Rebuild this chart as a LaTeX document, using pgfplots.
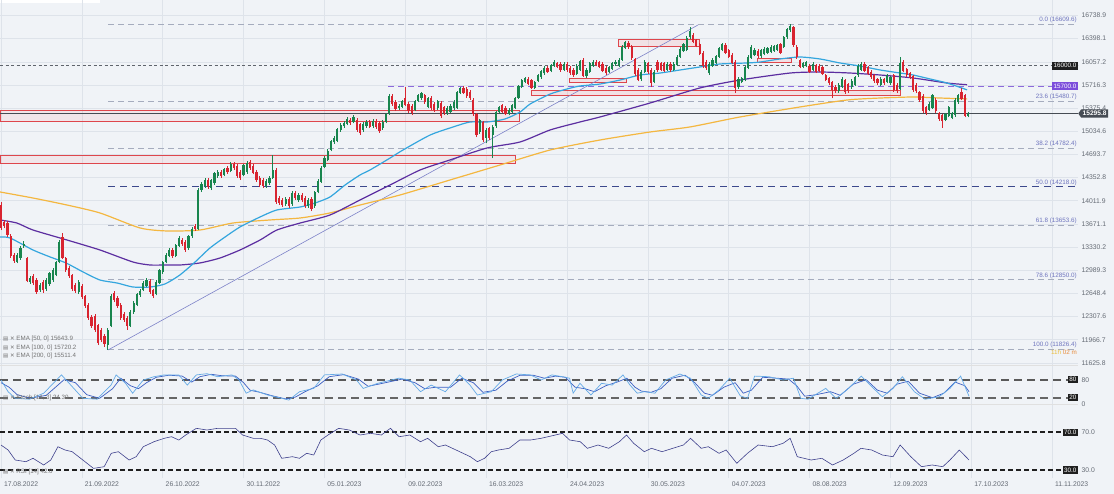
\documentclass[border=0pt]{standalone}
\usepackage{fontspec}
\setmainfont{Liberation Sans}
\newfontfamily\dejavu{DejaVu Sans}
\usepackage{pgfplots}
\usepackage{pgfplotstable}
\pgfplotsset{compat=1.18}
\usetikzlibrary{shapes.symbols}
\definecolor{bg}{RGB}{240,243,247}
\definecolor{gridc}{RGB}{222,227,234}
\definecolor{upc}{RGB}{24,133,78}
\definecolor{dnc}{RGB}{216,36,48}
\definecolor{ema50}{RGB}{52,166,222}
\definecolor{ema100}{RGB}{92,46,160}
\definecolor{ema200}{RGB}{244,183,64}
\definecolor{fibc}{RGB}{165,172,190}
\definecolor{fibtxt}{RGB}{110,116,190}
\definecolor{fibmid}{RGB}{60,72,140}
\definecolor{lvlA}{RGB}{95,100,108}
\definecolor{lvlB}{RGB}{140,105,220}
\definecolor{boxB}{RGB}{124,77,219}
\definecolor{rectc}{RGB}{222,70,76}
\definecolor{trendc}{RGB}{125,130,200}
\definecolor{tickc}{RGB}{100,106,116}
\definecolor{stk}{RGB}{100,170,230}
\definecolor{std}{RGB}{60,95,195}
\definecolor{rsic}{RGB}{62,64,140}
\definecolor{pricec}{RGB}{70,76,84}
\definecolor{timerA}{RGB}{236,190,60}
\definecolor{timerB}{RGB}{232,140,60}

\pgfplotstableread{
i O H L C
0 13949 14000 13580 13611
1 13699 13730 13610 13640
2 13684 13710 13480 13508
3 13493 13520 13170 13199
4 13213 13240 13100 13125
5 13110 13240 13090 13213
6 13169 13340 13140 13316
7 13346 13420 13320 13375
8 13169 13190 12810 12831
9 12816 12900 12790 12875
10 12904 12930 12770 12801
11 12845 12870 12640 12669
12 12698 12800 12670 12772
13 12816 12840 12660 12698
14 12713 12870 12690 12845
15 12787 12970 12760 12948
16 12845 13020 12820 12993
17 12919 13130 12900 13110
18 13110 13430 13090 13405
19 13479 13530 13150 13169
20 13169 13190 12970 12993
21 13022 13050 12880 12904
22 12919 12940 12690 12713
23 12772 12800 12660 12684
24 12669 12840 12640 12816
25 12757 12780 12570 12595
26 12610 12630 12440 12463
27 12478 12500 12260 12286
28 12301 12330 12140 12168
29 12316 12340 12080 12109
30 12183 12200 11890 11918
31 12109 12140 11930 11962
32 12021 12050 11860 11903
33 11889 12140 11815 12109
34 12168 12640 12150 12610
35 12654 12690 12520 12551
36 12581 12610 12440 12463
37 12478 12500 12260 12286
38 12345 12370 12230 12257
39 12286 12310 12110 12168
40 12168 12400 12150 12375
41 12375 12530 12350 12507
42 12478 12660 12460 12639
43 12625 12710 12600 12684
44 12698 12830 12680 12801
45 12757 12870 12740 12845
46 12831 12860 12640 12669
47 12698 12720 12580 12610
48 12639 12840 12620 12816
49 12801 13010 12780 12993
50 12963 13130 12940 13110
51 13110 13240 13090 13213
52 13199 13310 13180 13287
53 13287 13320 13170 13199
54 13199 13380 13180 13361
55 13346 13490 13330 13464
56 13434 13460 13350 13375
57 13405 13430 13260 13287
58 13316 13510 13290 13493
59 13493 13620 13470 13596
60 13640 13670 13570 13596
61 13596 14200 13580 14170
62 14170 14290 14140 14259
63 14229 14340 14200 14317
64 14317 14350 14190 14214
65 14200 14330 14170 14317
66 14273 14440 14250 14420
67 14376 14460 14350 14435
68 14435 14460 14350 14376
69 14391 14500 14370 14479
70 14494 14520 14410 14435
71 14450 14580 14430 14553
72 14553 14580 14470 14494
73 14524 14550 14350 14376
74 14435 14460 14320 14347
75 14391 14560 14370 14538
76 14435 14590 14410 14568
77 14582 14610 14470 14494
78 14524 14550 14400 14420
79 14435 14460 14290 14317
80 14347 14370 14220 14244
81 14317 14340 14200 14229
82 14229 14330 14200 14303
83 14273 14370 14250 14347
84 14347 14685 14330 14465
85 14465 14490 13970 13994
86 14052 14080 13950 13979
87 14023 14050 13920 13949
88 13964 14060 13940 14038
89 14038 14060 13910 13935
90 13964 14150 13940 14126
91 14126 14150 14030 14052
92 14023 14120 14000 14097
93 14097 14120 14000 14023
94 14052 14080 13910 13935
95 13935 14050 13910 14023
96 14038 14060 13860 13891
97 13935 14160 13910 14141
98 14141 14330 14120 14303
99 14288 14520 14270 14494
100 14509 14670 14490 14641
101 14612 14770 14590 14744
102 14759 14910 14740 14892
103 14877 14960 14850 14936
104 14892 15090 14870 15068
105 15054 15150 15030 15127
106 15112 15180 15090 15157
107 15142 15240 15120 15215
108 15201 15230 15130 15157
109 15171 15270 15150 15245
110 15201 15230 15030 15054
111 15142 15160 14980 15009
112 15054 15170 15030 15142
113 15112 15200 15090 15171
114 15171 15200 15080 15098
115 15112 15210 15090 15186
116 15186 15210 15070 15098
117 15157 15180 15010 15039
118 15083 15200 15060 15171
119 15171 15310 15150 15289
120 15304 15580 15280 15554
121 15554 15580 15410 15436
122 15466 15490 15340 15363
123 15377 15430 15350 15407
124 15392 15500 15370 15480
125 15524 15686 15400 15421
126 15436 15460 15310 15333
127 15407 15430 15280 15304
128 15348 15500 15330 15480
129 15480 15590 15460 15569
130 15524 15620 15500 15598
131 15569 15590 15440 15466
132 15392 15540 15370 15524
133 15524 15550 15350 15377
134 15436 15460 15320 15348
135 15377 15500 15350 15480
136 15451 15480 15230 15260
137 15392 15410 15280 15304
138 15304 15400 15280 15377
139 15318 15430 15300 15407
140 15377 15490 15350 15466
141 15377 15630 15360 15613
142 15598 15690 15580 15672
143 15672 15700 15580 15598
144 15657 15680 15530 15554
145 15613 15640 15500 15524
146 15495 15520 15260 15289
147 15289 15310 14950 14980
148 15024 15220 15000 15201
149 15171 15190 14870 14906
150 14936 15080 14860 15054
151 15083 15100 14900 14936
152 14980 15120 14641 15098
153 15112 15340 15090 15318
154 15318 15410 15300 15392
155 15421 15440 15300 15318
156 15377 15400 15270 15289
157 15289 15370 15270 15348
158 15318 15440 15300 15421
159 15377 15540 15360 15524
160 15524 15720 15510 15701
161 15686 15810 15670 15789
162 15760 15840 15740 15819
163 15804 15830 15710 15730
164 15789 15810 15650 15672
165 15672 15780 15650 15760
166 15775 15880 15760 15863
167 15834 15940 15810 15922
168 15892 15990 15870 15966
169 15966 15990 15890 15907
170 15922 16030 15900 16010
171 15995 16080 15980 16054
172 16040 16060 15960 15981
173 16025 16050 15910 15937
174 15937 16050 15920 16025
175 16025 16050 15910 15937
176 15966 15990 15870 15892
177 15937 15960 15840 15863
178 15878 16020 15860 15995
179 15937 16090 15920 16069
180 16084 16110 15830 15848
181 15848 15960 15820 15937
182 15907 16060 15890 16040
183 15995 16080 15980 16054
184 16054 16080 15990 16010
185 16054 16070 15960 15981
186 16025 16050 15900 15922
187 15966 15990 15870 15892
188 15907 16000 15890 15981
189 15951 16060 15930 16040
190 16025 16080 16000 16054
191 15995 16110 15980 16084
192 16084 16300 16070 16275
193 16260 16370 16240 16349
194 16334 16360 16250 16275
195 16290 16310 16090 16113
196 16099 16120 15850 15878
197 15937 15960 15770 15789
198 15804 15930 15780 15907
199 15907 16080 15890 16054
200 16040 16060 15880 15907
201 15937 15960 15686 15745
202 15760 15930 15740 15907
203 16054 16080 15910 15937
204 16040 16060 15920 15937
205 16040 16060 15900 15922
206 15937 16050 15920 16025
207 16025 16050 15910 15937
208 15937 16050 15920 16025
209 16010 16150 15990 16128
210 16128 16270 16110 16246
211 16216 16340 16200 16319
212 16231 16430 16210 16408
213 16422 16570 16400 16511
214 16452 16480 16330 16349
215 16378 16400 16270 16290
216 16319 16340 16150 16172
217 16187 16210 15970 15995
218 16054 16080 15940 15966
219 15892 16050 15870 16025
220 15995 16110 15980 16084
221 16040 16160 16020 16143
222 16128 16280 16110 16260
223 16231 16340 16210 16319
224 16305 16330 16170 16187
225 16231 16250 16110 16128
226 16157 16180 16020 16040
227 16054 16080 15598 15672
228 15686 15830 15660 15804
229 15760 15840 15740 15819
230 15789 16000 15770 15981
231 15966 16150 15950 16128
232 16113 16300 16100 16275
233 16157 16260 16140 16231
234 16216 16240 16120 16143
235 16143 16250 16120 16231
236 16172 16270 16150 16246
237 16187 16280 16170 16260
238 16202 16300 16180 16275
239 16216 16310 16200 16290
240 16231 16320 16210 16305
241 16319 16340 16170 16187
242 16275 16440 16260 16422
243 16422 16560 16400 16540
244 16525 16614 16500 16584
245 16570 16590 16280 16305
246 16275 16300 16100 16128
247 16084 16100 15960 15981
248 15981 16060 15960 16040
249 15995 16070 15980 16054
250 15995 16020 15890 15907
251 15937 16050 15920 16025
252 16010 16030 15890 15907
253 15995 16020 15900 15922
254 15981 16000 15860 15878
255 15863 15880 15770 15789
256 15819 15840 15720 15745
257 15760 15780 15524 15642
258 15686 15710 15600 15627
259 15627 15740 15600 15716
260 15686 15830 15670 15804
261 15789 15810 15590 15613
262 15730 15750 15600 15627
263 15686 15800 15660 15775
264 15716 15850 15700 15834
265 15863 16020 15840 15995
266 15937 16050 15920 16025
267 16025 16050 15900 15922
268 15981 16000 15860 15878
269 15907 15930 15810 15834
270 15863 15880 15750 15775
271 15804 15820 15720 15745
272 15716 15830 15700 15804
273 15804 15820 15720 15745
274 15760 15880 15740 15863
275 15745 15850 15720 15834
276 15863 15880 15620 15642
277 15716 15740 15600 15627
278 15657 16128 15640 16040
279 16054 16080 15900 15922
280 15951 15970 15840 15863
281 15892 15910 15800 15819
282 15848 15870 15620 15642
283 15716 15740 15600 15627
284 15613 15630 15470 15495
285 15554 15580 15310 15333
286 15392 15410 15280 15304
287 15348 15460 15330 15436
288 15377 15590 15360 15569
289 15495 15520 15310 15333
290 15304 15320 15190 15215
291 15274 15290 15083 15186
292 15201 15310 15180 15289
293 15260 15410 15240 15392
294 15230 15320 15210 15304
295 15274 15520 15250 15495
296 15466 15590 15440 15569
297 15613 15672 15490 15510
298 15569 15590 15240 15260
299 15260 15320 15240 15296
}\candles

\pgfplotsset{
  panel/.style={
    scale only axis, width=1078pt, xmin=-0.31, xmax=333,
    axis line style={draw=none}, major tick length=0pt,
    xtick={0,25,...,325}, xmajorgrids=true,
    grid style={gridc, line width=0.5pt},
    ticklabel style={font=\fontsize{6.8}{8}\selectfont, text=tickc},
    yticklabel pos=right, clip mode=individual,
  },
  candle/.style={draw=none, mark=none, forget plot,
    error bars/y dir=plus, error bars/y explicit, error bars/error mark=none,
    error bars/error bar style={line width=#1}},
}
\tikzset{
  fiblab/.style={anchor=south east, inner sep=1pt, text=fibtxt, font=\fontsize{6.3}{7}\selectfont},
  blkbox/.style={anchor=east, fill=black!88, text=white, inner xsep=1.5pt, inner ysep=1.4pt, font=\fontsize{6.3}{7}\selectfont},
}

\begin{document}
\begin{tikzpicture}[x=1pt,y=1pt]
\fill[bg] (0,0) rectangle (1114,-494);
\fill[white] (0,0) rectangle (100,-3);

% ===== main price panel =====
\begin{axis}[panel, at={(0pt,0pt)}, anchor=north west, height=365pt,
  ymin=11594, ymax=16967, xticklabels={}, ymajorgrids=true,
  ytick={16738.9,16398.1,16057.2,15716.3,15375.4,15034.6,14693.7,14352.8,14011.9,13671.1,13330.2,12989.3,12648.4,12307.6,11966.7,11625.8},
  yticklabels={16738.9,16398.1,16057.2,15716.3,15375.4,15034.6,14693.7,14352.8,14011.9,13671.1,13330.2,12989.3,12648.4,12307.6,11966.7,11625.8},
]
% zones
\addplot[draw=rectc, line width=0.7pt, fill=red, fill opacity=0.05] coordinates {(-0.31,15348) (160.2,15348) (160.2,15186) (-0.31,15186)} -- cycle;
\addplot[draw=rectc, line width=0.7pt, fill=red, fill opacity=0.05] coordinates {(-0.31,14685) (158.9,14685) (158.9,14568) (-0.31,14568)} -- cycle;
\addplot[draw=rectc, line width=0.9pt, fill=red, fill opacity=0.07] coordinates {(190.8,16393) (216.1,16393) (216.1,16290) (190.8,16290)} -- cycle;
\addplot[draw=rectc, line width=0.9pt, fill=red, fill opacity=0.07] coordinates {(175.9,15819) (193.3,15819) (193.3,15760) (175.9,15760)} -- cycle;
\addplot[draw=rectc, line width=0.9pt, fill=red, fill opacity=0.07] coordinates {(163.9,15635) (278,15635) (278,15558) (163.9,15558)} -- cycle;
\addplot[draw=rectc, line width=0.9pt, fill=red, fill opacity=0.07] coordinates {(233.8,16113) (244.3,16113) (244.3,16054) (233.8,16054)} -- cycle;
% horizontal levels
\addplot[fibc, line width=0.6pt, dash pattern=on 6pt off 4pt] coordinates {(33.1,16609.6) (333,16609.6)};
\addplot[fibc, line width=0.6pt, dash pattern=on 6pt off 4pt] coordinates {(33.1,15480.7) (333,15480.7)};
\addplot[fibc, line width=0.6pt, dash pattern=on 6pt off 4pt] coordinates {(33.1,14782.4) (333,14782.4)};
\addplot[fibmid, line width=0.8pt, dash pattern=on 7pt off 5pt] coordinates {(33.1,14218.0) (333,14218.0)};
\addplot[fibc, line width=0.6pt, dash pattern=on 6pt off 4pt] coordinates {(33.1,13653.6) (333,13653.6)};
\addplot[fibc, line width=0.6pt, dash pattern=on 6pt off 4pt] coordinates {(33.1,12850.0) (333,12850.0)};
\addplot[fibc, line width=0.6pt, dash pattern=on 6pt off 4pt] coordinates {(33.1,11826.4) (333,11826.4)};
\addplot[lvlA, line width=0.7pt, dash pattern=on 3pt off 2.5pt] coordinates {(-0.31,16000) (333,16000)};
\addplot[lvlB, line width=1pt, dash pattern=on 6pt off 4pt] coordinates {(119.7,15700) (333,15700)};
\addplot[pricec, line width=0.6pt] coordinates {(-0.31,15295.8) (333,15295.8)};
% trend line
\addplot[trendc, line width=0.6pt] coordinates {(33.1,11815) (215.5,16599)};
% EMAs
\addplot[ema200, line width=1.2pt, smooth, tension=0.4] coordinates {(-0.3,14141) (9.9,14052) (20.4,13949) (30.6,13832) (43,13611) (51.3,13567) (61.5,13581) (71.7,13684) (83.2,13729) (92.5,13758) (101.7,13832) (111,13949) (123.4,14097) (138.8,14317) (154.3,14538) (169.8,14759) (185.2,14906) (200.7,15024) (213,15098) (228.5,15245) (247,15392) (261.6,15495) (271.8,15524) (282,15539) (290.4,15524) (298.7,15511)};
\addplot[ema100, line width=1.2pt, smooth, tension=0.4] coordinates {(-0.3,13729) (4.9,13684) (9.9,13581) (20.4,13434) (30.6,13287) (40.8,13110) (46.1,13066) (50.7,13066) (55.3,13066) (61.5,13096) (67.7,13169) (73.9,13287) (80.1,13434) (85.3,13581) (92.5,13684) (101.7,13802) (111,14023) (120.3,14244) (129.6,14465) (138.8,14612) (150.3,14789) (160.5,14877) (169.8,15054) (179,15171) (185.2,15245) (200.7,15451) (216.1,15672) (228.5,15789) (244,15892) (253.2,15907) (262.5,15892) (271.8,15863) (282,15819) (292.5,15745) (298.7,15720)};
\addplot[ema50, line width=1.2pt, smooth, tension=0.4] coordinates {(-0.3,13478) (2.8,13464) (9.9,13287) (15.2,13184) (20.1,13096) (25.4,12963) (30.6,12845) (35.9,12801) (40.8,12742) (46.1,12742) (50.7,12787) (55.3,12919) (60,13110) (64.6,13316) (69.3,13479) (73.9,13626) (80.1,13773) (85.3,13876) (92.5,13920) (97.1,13979) (101.7,14067) (106.4,14244) (111,14391) (114.1,14465) (120.3,14641) (124.3,14759) (132.7,14980) (139.8,15098) (145,15171) (150.3,15171) (155.8,15215) (160.5,15318) (163.6,15436) (169.8,15583) (175,15657) (179,15701) (185.2,15730) (191.4,15789) (197.6,15863) (203.8,15892) (210,15937) (216.1,15981) (222.3,16025) (230.7,16040) (234.7,16054) (240.9,16099) (247,16128) (253.2,16099) (259.4,16040) (265.6,15995) (271.8,15937) (278,15892) (282,15863) (287.3,15804) (292.5,15745) (298.7,15644)};
% candles: wicks
\addplot[candle=0.5pt, error bars/error bar style={draw=upc}, restrict expr to domain={\thisrow{C}-\thisrow{O}}{0:100000}]
  table[x=i, y=L, y error expr=\thisrow{H}-\thisrow{L}] {\candles};
\addplot[candle=0.5pt, error bars/error bar style={draw=dnc}, restrict expr to domain={\thisrow{O}-\thisrow{C}}{0.001:100000}]
  table[x=i, y=L, y error expr=\thisrow{H}-\thisrow{L}] {\candles};
% candles: bodies
\addplot[candle=2.2pt, error bars/error bar style={draw=upc}, restrict expr to domain={\thisrow{C}-\thisrow{O}}{0:100000}]
  table[x=i, y=O, y error expr=\thisrow{C}-\thisrow{O}] {\candles};
\addplot[candle=2.2pt, error bars/error bar style={draw=dnc}, restrict expr to domain={\thisrow{O}-\thisrow{C}}{0.001:100000}]
  table[x=i, y=C, y error expr=\thisrow{O}-\thisrow{C}] {\candles};
% fib labels
\node[fiblab] at (axis cs:333,16609.6) {0.0 (16609.6)};
\node[fiblab] at (axis cs:333,15480.7) {23.6 (15480.7)};
\node[fiblab] at (axis cs:333,14782.4) {38.2 (14782.4)};
\node[fiblab] at (axis cs:333,14218.0) {50.0 (14218.0)};
\node[fiblab] at (axis cs:333,13653.6) {61.8 (13653.6)};
\node[fiblab] at (axis cs:333,12850.0) {78.6 (12850.0)};
\node[fiblab] at (axis cs:333,11826.4) {100.0 (11826.4)};
\node[anchor=north east, inner sep=1pt, font=\fontsize{6.3}{7}\selectfont] at (axis cs:333,11826.4) {\textcolor{timerA}{11h} \textcolor{timerB}{02 m}};
\node[blkbox, inner ysep=1.6pt] at (axis cs:333,16000) {16000.0};
\node[blkbox, fill=boxB, inner ysep=1.6pt] at (axis cs:333,15700) {15700.0};
\node[signal, signal to=west, signal pointer angle=110, anchor=west, fill=pricec, text=white, inner xsep=1.5pt, inner ysep=1.8pt, font=\bfseries\fontsize{6.6}{7}\selectfont] at (axis cs:333,15295.8) {15295.8};
\end{axis}

% ===== stochastic panel =====
\begin{axis}[panel, at={(0pt,-365pt)}, anchor=north west, height=39pt,
  ymin=-1, ymax=129, xticklabels={}, ytick={0,80}, yticklabels={0,80}]
\addplot[black!65, line width=1.6pt, dash pattern=on 8pt off 5pt] coordinates {(-0.31,80) (330,80)};
\addplot[black!60, line width=1.6pt, dash pattern=on 8pt off 5pt] coordinates {(-0.31,20) (330,20)};
\addplot[std, line width=0.7pt] coordinates {(0,70) (2.5,55) (5,30) (9,18) (14,28) (19.5,80) (23,70) (26.5,30) (30.5,18) (34.5,50) (37,85) (40,60) (42.5,50) (45,70) (48,88) (52,95) (56,92) (59,72) (61.5,90) (65,98) (68.5,93) (72.5,92) (75,70) (77,45) (80,38) (84,26) (88,16) (91,22) (94,40) (98,60) (101.5,90) (106,97) (110.5,82) (113.5,58) (118,68) (124,82) (128,70) (131,50) (134.5,55) (139,55) (142.5,85) (146,70) (149,38) (153,45) (156.5,75) (160.5,95) (164.5,95) (168,85) (171.5,92) (174.5,88) (177.5,55) (180.5,50) (183.5,40) (187,60) (190.5,72) (193.5,85) (196,55) (198,42) (201,38) (204,50) (207.5,85) (211.5,95) (214.5,70) (217.5,35) (220,28) (223.5,55) (227,70) (229.5,35) (232,45) (235.5,88) (240,85) (243.5,82) (246,60) (248.5,25) (252,30) (256.5,40) (259.5,28) (263.5,65) (267.5,80) (271,45) (274,35) (277,65) (280.5,75) (284,35) (288,20) (291.5,35) (295,72) (298,60) (299.3,40)};
\addplot[stk, line width=0.7pt] coordinates {(0,79) (2.2,40) (4.4,18) (8.8,15) (13.2,35) (18.7,96) (22,57) (25.3,18) (29.7,15) (34,62) (35.6,96) (38.5,68) (40.7,35) (44,79) (47.3,90) (50.5,96) (55,96) (57.6,62) (60.4,96) (63.7,100) (67,90) (71.4,96) (73.6,79) (75.8,35) (78,46) (82.4,29) (86.8,18) (89,12) (92.3,40) (96.7,51) (100,96) (105.5,99) (109.9,79) (112,51) (116.5,68) (123,85) (126.4,79) (129.7,40) (133,62) (137.4,40) (141.8,96) (145,62) (147.3,29) (151.6,40) (155,79) (159.3,99) (163.7,96) (167,79) (170.3,96) (173.6,90) (175.8,85) (176.9,35) (179,68) (182.4,29) (185.7,68) (189,62) (192.3,96) (194.5,62) (196.7,35) (198.9,40) (202.2,35) (205.5,79) (209.9,99) (213.2,85) (216.5,29) (218.7,18) (222,46) (225.3,85) (228.6,26) (230.8,18) (233,92) (237.4,90) (241.8,79) (245,85) (247.3,18) (249.5,15) (255,51) (258.2,18) (261.5,46) (266,92) (269.2,57) (272.5,23) (275.8,51) (278.7,90) (282.4,40) (285.7,15) (290,23) (293.4,51) (296.7,92) (299.3,25)};
\node[blkbox] at (axis cs:333,80) {80};
\node[blkbox] at (axis cs:333,20) {20};
\end{axis}

% ===== RSI panel =====
\begin{axis}[panel, at={(0pt,-404pt)}, anchor=north west, height=74pt,
  ymin=21.5, ymax=100, ytick={30,70}, yticklabels={30.0,70.0},
  xticklabels={17.08.2022,21.09.2022,26.10.2022,30.11.2022,05.01.2023,09.02.2023,16.03.2023,24.04.2023,30.05.2023,04.07.2023,08.08.2023,12.09.2023,17.10.2023,11.11.2023},
  xticklabel style={anchor=north west, xshift=-0.5pt, yshift=-0.5pt}]
\addplot[black!88, line width=2pt, dash pattern=on 5pt off 3pt] coordinates {(-0.31,70) (328,70)};
\addplot[black!88, line width=2pt, dash pattern=on 5pt off 3pt] coordinates {(-0.31,30) (328,30)};
\addplot[rsic, line width=0.6pt] coordinates {(0,56.5) (2.2,51.2) (4.4,40.6) (7.7,38.8) (9.9,42.4) (13.2,35.3) (15.4,40.6) (17.6,54.7) (19.8,51.2) (22,49.4) (25.3,40.6) (28.6,31.7) (31.9,33.5) (34.1,47.7) (36.3,49.4) (39.6,40.6) (41.8,44.1) (44,54.7) (47.3,60) (50.5,63.6) (52.7,65.3) (55,61.8) (57.1,67.1) (60.4,74.2) (63.7,72.4) (67,74.2) (70.3,74.2) (72.5,74.2) (74.7,67.1) (78,63.6) (80.2,63.6) (82.4,61.8) (84.6,56.5) (86.8,42.4) (90.1,44.1) (92.3,42.4) (94.5,47.7) (96.7,45.9) (98.9,61.8) (101.1,67.1) (104.4,74.2) (107.7,72.4) (111,67.1) (114.3,68.9) (117.6,67.1) (120.4,74.2) (123.1,65.3) (126.4,67.1) (129.7,60) (131.9,63.6) (135.2,54.7) (137.4,56.5) (140.7,51.2) (145.1,44.1) (147.3,38.8) (149.5,42.4) (151.6,49.4) (153.8,51.2) (157.1,53) (160.4,61.8) (163.7,61.8) (167,63.6) (171.4,67.1) (173.6,68.9) (175.8,61.8) (179.1,60) (181.3,53) (184.6,56.5) (187.9,53) (191.2,60) (193.4,67.1) (195.6,58.3) (198.9,49.4) (201.1,53) (204.4,49.4) (207.7,53) (211,56.5) (213.2,63.6) (216.5,53) (218.7,54.7) (222,47.7) (224.2,51.2) (227.5,37.1) (230.8,47.7) (234.1,56.5) (238.5,54.7) (241.8,58.3) (244,63.6) (246.2,44.1) (250.5,40.6) (253.8,42.4) (257.1,35.3) (260.4,40.6) (263.7,47.7) (265.9,53) (269.2,51.2) (272.5,45.9) (275.8,44.1) (278,56.5) (281.3,44.1) (284.6,33.5) (287.9,35.3) (291.2,33.5) (293.4,40.6) (296.3,51.2) (299.3,40.6)};
\node[blkbox] at (axis cs:333,70) {70.0};
\node[blkbox] at (axis cs:333,30) {30.0};
\end{axis}

% panel separators
\draw[black!12, line width=0.5pt] (0,-365) -- (1078,-365);
\draw[black!12, line width=0.5pt] (0,-404) -- (1078,-404);
% indicator captions
\begin{scope}[every node/.style={anchor=west, inner sep=0pt, text=black!55, font=\fontsize{6.2}{7}\selectfont}]
\node at (3,-339) {{\dejavu\fontsize{5.5}{6}\selectfont ▤ ✕} EMA [50, 0] 15643.9};
\node at (3,-347.5) {{\dejavu\fontsize{5.5}{6}\selectfont ▤ ✕} EMA [100, 0] 15720.2};
\node at (3,-356) {{\dejavu\fontsize{5.5}{6}\selectfont ▤ ✕} EMA [200, 0] 15511.4};
\node at (3,-398) {{\dejavu\fontsize{5.5}{6}\selectfont ▤ ✕} Stoch [14, 3] 24.30};
\node at (3,-472) {{\dejavu\fontsize{5.5}{6}\selectfont ▤ ✕} RSI [14] 42.0};
\end{scope}
\pgfresetboundingbox
\useasboundingbox (0,0) rectangle (1114,-494);
\end{tikzpicture}
\end{document}
